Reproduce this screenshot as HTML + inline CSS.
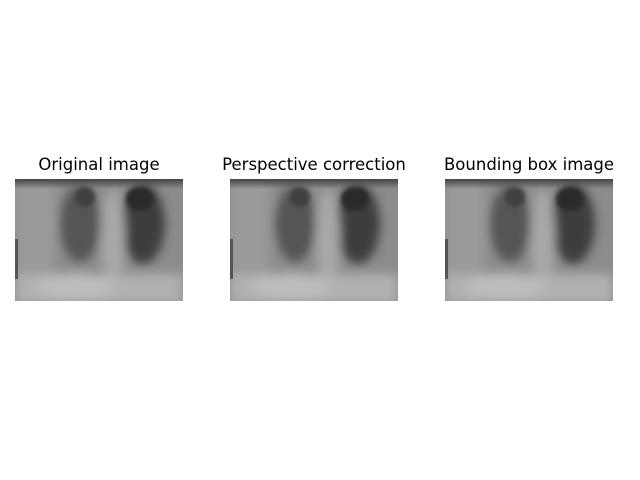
<!DOCTYPE html>
<html><head><meta charset="utf-8"><style>
body{margin:0;width:640px;height:480px;background:#fff;overflow:hidden;position:relative;font-family:"DejaVu Sans","Liberation Sans",sans-serif}
.t{position:absolute;top:155px;font-size:16.5px;color:#000;text-align:center;width:240px}
svg{position:absolute;top:0;left:0}
</style></head><body>
<div class="t" style="left:-21px">Original image</div>
<div class="t" style="left:194px">Perspective correction</div>
<div class="t" style="left:409px">Bounding box image</div>
<svg width="640" height="480">
<defs>
<filter id="b" x="-20%" y="-20%" width="140%" height="140%"><feGaussianBlur stdDeviation="5"/></filter>
<filter id="b2"><feGaussianBlur stdDeviation="2"/></filter>
<linearGradient id="tg" x1="0" y1="0" x2="0" y2="1"><stop offset="0" stop-color="#444"/><stop offset="1" stop-color="#444" stop-opacity="0"/></linearGradient>
<clipPath id="c"><rect x="0" y="0" width="168" height="122"/></clipPath>
<g id="xray" clip-path="url(#c)">
<rect width="168" height="122" fill="#8c8c8c"/>
<g filter="url(#b)">
<rect x="0" y="0" width="40" height="100" fill="#9a9a9a"/>
<ellipse cx="65" cy="45" rx="20" ry="38" fill="#555"/>
<ellipse cx="128" cy="45" rx="22" ry="40" fill="#3e3e3e"/>
<ellipse cx="98" cy="60" rx="12" ry="50" fill="#a8a8a8"/>
<rect x="0" y="95" width="168" height="30" fill="#b0b0b0"/>
<ellipse cx="60" cy="108" rx="40" ry="14" fill="#bcbcbc"/>
</g>
<g filter="url(#b2)">
<ellipse cx="125" cy="20" rx="14" ry="12" fill="#2a2a2a"/>
<ellipse cx="70" cy="18" rx="10" ry="10" fill="#404040"/>
</g>
<rect width="168" height="10" fill="url(#tg)"/>
<rect x="0" y="60" width="3" height="40" fill="#555"/>
</g>
</defs>
<use href="#xray" x="15" y="179"/>
<use href="#xray" x="230" y="179"/>
<use href="#xray" x="445" y="179"/>
</svg>
</body></html>
